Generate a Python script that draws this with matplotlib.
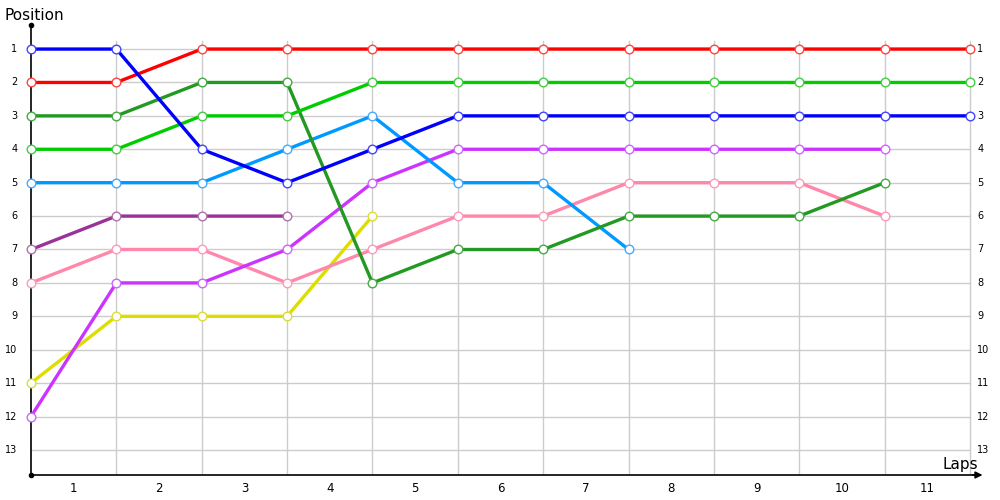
import matplotlib.pyplot as plt

# lap boundaries 0..11, positions per driver
red = [2, 2, 1, 1, 1, 1, 1, 1, 1, 1, 1, 1]
lime = [4, 4, 3, 3, 2, 2, 2, 2, 2, 2, 2, 2]
blue = [1, 1, 4, 5, 4, 3, 3, 3, 3, 3, 3, 3]
dgreen = [3, 3, 2, 2, 8, 7, 7, 6, 6, 6, 5]
skyblue = [5, 5, 5, 4, 3, 5, 5, 7]
purple = [7, 6, 6, 6]
pink = [8, 7, 7, 8, 7, 6, 6, 5, 5, 5, 6]
violet = [12, 8, 8, 7, 5, 4, 4, 4, 4, 4, 4]
yellow = [11, 9, 9, 9, 6]

lap_labels = [str(i) for i in range(1, 12)]
positions = list(range(1, 14))

series = [
    (purple, "#993399", "#b070b0"),
    (yellow, "#dddd00", "#dddd33"),
    (pink, "#ff88aa", "#ff99bb"),
    (violet, "#cc33ff", "#cc66ff"),
    (skyblue, "#0099ff", "#44aaff"),
    (dgreen, "#229922", "#44aa44"),
    (lime, "#00cc00", "#44cc44"),
    (red, "#ff0000", "#ff4444"),
    (blue, "#0000ff", "#4444ff"),
]

fig = plt.figure(figsize=(10, 5), dpi=100)
ax = fig.add_axes([0.031, 0.05, 0.9475, 0.90])
ax.set_xlim(0, 11.1)
ax.set_ylim(13.75, 0.28)

# grid
for p in positions:
    ax.plot([0, 11], [p, p], color="#cccccc", lw=1, zorder=1)
for x in range(1, 12):
    ax.plot([x, x], [0.75, 13.75], color="#cccccc", lw=1, zorder=1)

for vals, col, edge in series:
    xs = list(range(len(vals)))
    ax.plot(xs, vals, color=col, lw=2.4, zorder=3, solid_capstyle="round",
            clip_on=False)
    ax.plot(xs, vals, ls="none", marker="o", ms=6.2, mfc="white",
            mec=edge, mew=1, zorder=4, clip_on=False)

for s in ["top", "right"]:
    ax.spines[s].set_visible(False)
for s in ["left", "bottom"]:
    ax.spines[s].set_linewidth(1.2)
    ax.spines[s].set_zorder(2)
ax.set_xticks([])
ax.set_yticks([])

# axis markers
ax.plot([0], [0.28], "o", color="black", ms=3, clip_on=False, zorder=5)
ax.plot([0], [13.75], "o", color="black", ms=3, clip_on=False, zorder=5)
ax.annotate("", xy=(11.18, 13.75), xytext=(11.0, 13.75),
            arrowprops=dict(arrowstyle="-|>", color="black", lw=1.2,
                            mutation_scale=10),
            annotation_clip=False)

for p in positions:
    ax.text(-0.16, p, str(p), ha="right", va="center", fontsize=7)
    ax.text(11.085, p, str(p), ha="left", va="center", fontsize=7)
for i, lab in enumerate(lap_labels):
    ax.text(i + 0.5, 14.15, lab, ha="center", va="center", fontsize=8.5)

fig.text(0.004, 0.968, "Position", ha="left", va="center", fontsize=11)
fig.text(0.943, 0.07, "Laps", ha="left", va="center", fontsize=11)

fig.savefig("out.png", dpi=100)
